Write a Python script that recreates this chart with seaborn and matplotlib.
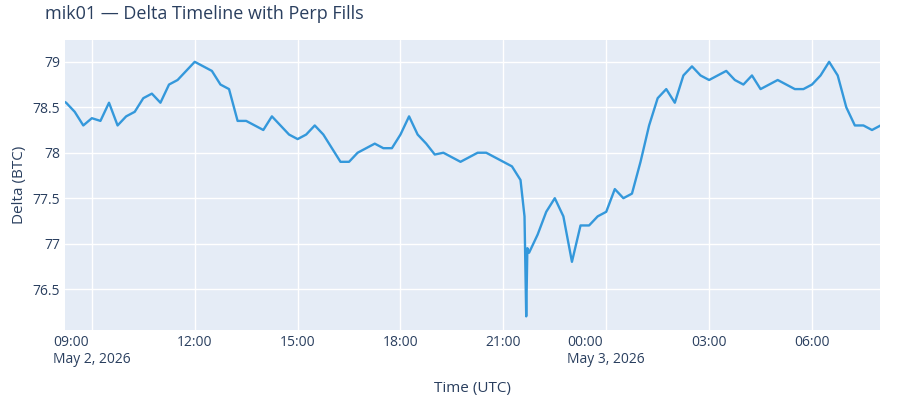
import matplotlib
matplotlib.use("Agg")
import matplotlib.pyplot as plt
import seaborn as sns
import pandas as pd

TITLE = "mik01 — Delta Timeline with Perp Fills"

times = (
    ["2026-05-02 %02d:%02d" % (h, m) for h in range(8, 21) for m in (0, 15, 30, 45)]
    + ["2026-05-02 21:00", "2026-05-02 21:15", "2026-05-02 21:30", "2026-05-02 21:37",
       "2026-05-02 21:40", "2026-05-02 21:42", "2026-05-02 21:45",
       "2026-05-02 22:00", "2026-05-02 22:15", "2026-05-02 22:30", "2026-05-02 22:45",
       "2026-05-02 23:00", "2026-05-02 23:15", "2026-05-02 23:30", "2026-05-02 23:45"]
    + ["2026-05-03 %02d:%02d" % (h, m) for h in range(0, 8) for m in (0, 15, 30, 45)]
    + ["2026-05-03 08:00"]
)

delta = [
    78.6, 78.55, 78.45, 78.3,
    78.38, 78.35, 78.55, 78.3,
    78.4, 78.45, 78.6, 78.65,
    78.55, 78.75, 78.8, 78.9,
    79.0, 78.95, 78.9, 78.75,
    78.7, 78.35, 78.35, 78.3,
    78.25, 78.4, 78.3, 78.2,
    78.15, 78.2, 78.3, 78.2,
    78.05, 77.9, 77.9, 78.0,
    78.05, 78.1, 78.05, 78.05,
    78.2, 78.4, 78.2, 78.1,
    77.98, 78.0, 77.95, 77.9,
    77.95, 78.0, 78.0, 77.95,
    77.9, 77.85, 77.7, 77.3,
    76.2, 76.95, 76.9,
    77.1, 77.35, 77.5, 77.3,
    76.8, 77.2, 77.2, 77.3,
    77.35, 77.6, 77.5, 77.55,
    77.9, 78.3, 78.6, 78.7,
    78.55, 78.85, 78.95, 78.85,
    78.8, 78.85, 78.9, 78.8,
    78.75, 78.85, 78.7, 78.75,
    78.8, 78.75, 78.7, 78.7,
    78.75, 78.85, 79.0, 78.85,
    78.5, 78.3, 78.3, 78.25,
    78.3,
]

y_ticks = [76.5, 77, 77.5, 78, 78.5, 79]
y_tick_labels = ["76.5", "77", "77.5", "78", "78.5", "79"]

df = pd.DataFrame({"time": pd.to_datetime(times), "delta": delta})

sns.set_theme(style="whitegrid")
plt.rcParams["font.family"] = ["Open Sans", "DejaVu Sans"]
text_color = "#2a3f5f"

fig = plt.figure(figsize=(9, 4), dpi=100)
ax = fig.add_axes([65 / 900, 70 / 400, 815 / 900, 290 / 400])
ax.set_facecolor("#E5ECF6")
sns.lineplot(data=df, x="time", y="delta", ax=ax, color="#3498db", linewidth=1.7)

ax.set_xlim(pd.Timestamp("2026-05-02 08:13"), pd.Timestamp("2026-05-03 07:59"))
ax.set_ylim(76.05, 79.24)
ax.set_yticks(y_ticks)
ax.set_yticklabels(y_tick_labels)

xt = pd.date_range("2026-05-02 09:00", "2026-05-03 06:00", freq="3h")
ax.set_xticks(xt)
labels = []
for t in xt:
    s = t.strftime("%H:%M")
    if t.hour == 9 and t.day == 2:
        s += "\nMay 2, 2026"
    elif t.hour == 0:
        s += "\nMay 3, 2026"
    labels.append(s)
ax.set_xticklabels(labels, ha="center", multialignment="left")

ax.grid(color="white", linewidth=1)
for sp in ax.spines.values():
    sp.set_visible(False)
ax.tick_params(colors=text_color, labelsize=10, length=0)
ax.set_xlabel("Time (UTC)", color=text_color, fontsize=11, labelpad=10)
ax.set_ylabel("Delta (BTC)", color=text_color, fontsize=11)
fig.text(45 / 900, 1 - 14 / 400, TITLE, color=text_color, fontsize=13, va="center")

fig.savefig("out.png", dpi=100)
plt.close(fig)
